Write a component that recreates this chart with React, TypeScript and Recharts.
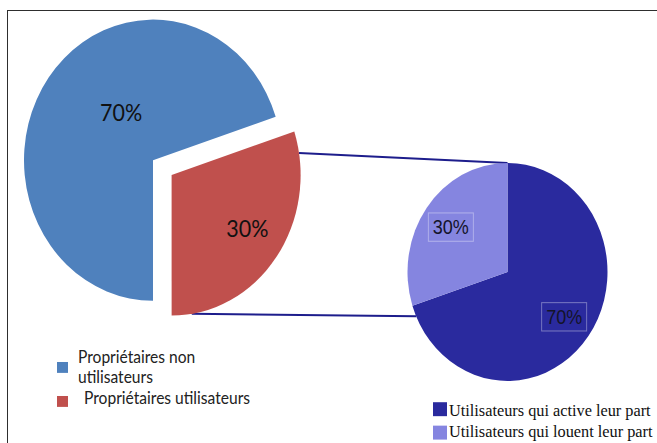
import React from "react";
import { Cell, Pie, PieChart } from "recharts";

// owners: split between non-users and users
const ownerLabels = ["Propriétaires non utilisateurs", "Propriétaires utilisateurs"];
const ownerShares = [70, 30];
// users: what they do with their share
const userLabels = ["Utilisateurs qui active leur part", "Utilisateurs qui louent leur part"];
const userShares = [70, 30];

const OWNER_COLORS = ["#4f81bd", "#c0504d"];
const USER_COLORS = ["#2a2a9e", "#8585e0"];
const LINK_COLOR = "#1d1d8c";

const W = 657;
const H = 443;
const SY = 1.09; // the whole figure is drawn slightly taller than wide
const CH = H / SY;

const BIG = { cx: 153, cy: 147, r: 129, start: 18, explode: 23 };
const SMALL = { cx: 507.5, cy: 249.5, r: 100, start: -162 };

const ownerData = ownerLabels.map((name, i) => ({ name, value: ownerShares[i] }));
const userData = userLabels.map((name, i) => ({ name, value: userShares[i] }));

const RAD = Math.PI / 180;
const pt = (cx: number, cy: number, r: number, deg: number) => [cx + r * Math.cos(deg * RAD), cy - r * Math.sin(deg * RAD)];

// angular span of each slice, same layout rule as the Pie
function spans(values: number[], start: number) {
  const total = values.reduce((a, b) => a + b, 0);
  let acc = start;
  return values.map((v) => {
    const s = acc;
    acc += (v / total) * 360;
    return { start: s, end: acc, mid: (s + acc) / 2 };
  });
}

const ownerSpans = spans(ownerShares, BIG.start);
const userSpans = spans(userShares, SMALL.start);
const [exDx, exDy] = (() => {
  const m = ownerSpans[1].mid;
  return [BIG.explode * Math.cos(m * RAD), -BIG.explode * Math.sin(m * RAD)];
})();

const BIG_LABEL_R = [0.42, 0.7];
const BIG_LABEL_SHIFT = [-18, 3];

function bigLabel(only: number) {
  return (props: any) => {
    const { cx, cy, midAngle, outerRadius, percent, index } = props;
    if (index !== only) return null;
    const [x, y] = pt(cx, cy, outerRadius * BIG_LABEL_R[index], midAngle + BIG_LABEL_SHIFT[index]);
    return (
      <text x={x} y={y} textAnchor="middle" dominantBaseline="central" fill="#111" fontFamily="Lato" fontSize={21.5}>
        {`${Math.round(percent * 100)}%`}
      </text>
    );
  };
}

function smallLabel(props: any) {
  const { cx, cy, midAngle, outerRadius, percent } = props;
  const [x, y] = pt(cx, cy, outerRadius * 0.7, midAngle);
  return (
    <g>
      <rect x={x - 22.5} y={y - 13} width={45} height={26} fill="none" stroke="rgba(255,255,255,0.35)" strokeWidth={1} />
      <text x={x} y={y} textAnchor="middle" dominantBaseline="central" fill="#14142a" fontFamily="Liberation Sans" fontSize={18}>
        {`${Math.round(percent * 100)}%`}
      </text>
    </g>
  );
}

function wrap(text: string, max: number) {
  const lines: string[] = [];
  let cur = "";
  for (const w of text.split(" ")) {
    const next = cur ? cur + " " + w : w;
    if (next.length > max && cur) {
      lines.push(cur);
      cur = w;
    } else cur = next;
  }
  if (cur) lines.push(cur);
  return lines;
}

// legend layout for the owners' pie
const OWNER_WRAP = [17, 40];
const OWNER_SWATCH_Y = [332.1, 363.3];
const OWNER_TEXT_Y = [332.7, 370.6];
const OWNER_TEXT_X = [78, 84];

export default function App() {
  const redC = [BIG.cx + exDx, BIG.cy + exDy];
  const links = [
    [pt(redC[0], redC[1], BIG.r, ownerSpans[1].end - 9), pt(SMALL.cx, SMALL.cy, SMALL.r, userSpans[1].start)],
    [pt(redC[0], redC[1], BIG.r, ownerSpans[1].start + 9), pt(SMALL.cx, SMALL.cy, SMALL.r, userSpans[1].end + 6)],
  ];

  return (
    <div style={{ position: "fixed", left: 0, top: 0, width: W, height: H, background: "#fff", overflow: "hidden" }}>
      <div
        style={{
          position: "absolute",
          left: 7,
          top: 10,
          width: W + 20,
          height: H + 20,
          border: "1.5px solid #2e2e2e",
        }}
      />
      <div style={{ position: "absolute", left: 0, top: 0, width: W, height: CH, transform: `scaleY(${SY})`, transformOrigin: "0 0" }}>
        <svg width={W} height={CH} style={{ position: "absolute", left: 0, top: 0 }}>
          {links.map(([a, b], i) => (
            <line key={i} x1={a[0]} y1={a[1]} x2={b[0]} y2={b[1]} stroke={LINK_COLOR} strokeWidth={1.8} />
          ))}
        </svg>
        <div style={{ position: "absolute", left: 0, top: 0 }}>
          <PieChart width={W} height={CH} margin={{ top: 0, right: 0, bottom: 0, left: 0 }}>
            <Pie
              data={ownerData}
              dataKey="value"
              nameKey="name"
              cx={BIG.cx}
              cy={BIG.cy}
              outerRadius={BIG.r}
              startAngle={BIG.start}
              endAngle={BIG.start + 360}
              stroke="none"
              label={bigLabel(0)}
              labelLine={false}
              isAnimationActive={false}
            >
              {ownerData.map((_, i) => (
                <Cell key={i} fill={i === 0 ? OWNER_COLORS[i] : "transparent"} />
              ))}
            </Pie>
            <Pie
              data={ownerData}
              dataKey="value"
              nameKey="name"
              cx={BIG.cx + exDx}
              cy={BIG.cy + exDy}
              outerRadius={BIG.r}
              startAngle={BIG.start}
              endAngle={BIG.start + 360}
              stroke="none"
              label={bigLabel(1)}
              labelLine={false}
              isAnimationActive={false}
            >
              {ownerData.map((_, i) => (
                <Cell key={i} fill={i === 1 ? OWNER_COLORS[i] : "transparent"} />
              ))}
            </Pie>
            <Pie
              data={userData}
              dataKey="value"
              nameKey="name"
              cx={SMALL.cx}
              cy={SMALL.cy}
              outerRadius={SMALL.r}
              startAngle={SMALL.start}
              endAngle={SMALL.start + 360}
              stroke="none"
              label={smallLabel}
              labelLine={false}
              isAnimationActive={false}
            >
              {userData.map((_, i) => (
                <Cell key={i} fill={USER_COLORS[i]} />
              ))}
            </Pie>
          </PieChart>
        </div>
        <svg width={W} height={CH} style={{ position: "absolute", left: 0, top: 0, pointerEvents: "none" }}>
          {ownerLabels.map((label, i) => (
            <g key={i}>
              <rect x={57} y={OWNER_SWATCH_Y[i]} width={11} height={10} fill={OWNER_COLORS[i]} />
              <text fontFamily="Lato" fontSize={15.6} fill="#222">
                {wrap(label, OWNER_WRAP[i]).map((l, j) => (
                  <tspan key={j} x={OWNER_TEXT_X[i]} y={OWNER_TEXT_Y[i] + j * 18.4}>
                    {l}
                  </tspan>
                ))}
              </text>
            </g>
          ))}
          {userLabels.map((label, i) => (
            <g key={i}>
              <rect x={433} y={369 + i * 21.5} width={14} height={12.8} fill={USER_COLORS[i]} />
              <text x={449} y={381.7 + i * 18.9} fontFamily="Liberation Serif" fontSize={16.3} fill="#111">
                {label}
              </text>
            </g>
          ))}
        </svg>
      </div>
    </div>
  );
}
